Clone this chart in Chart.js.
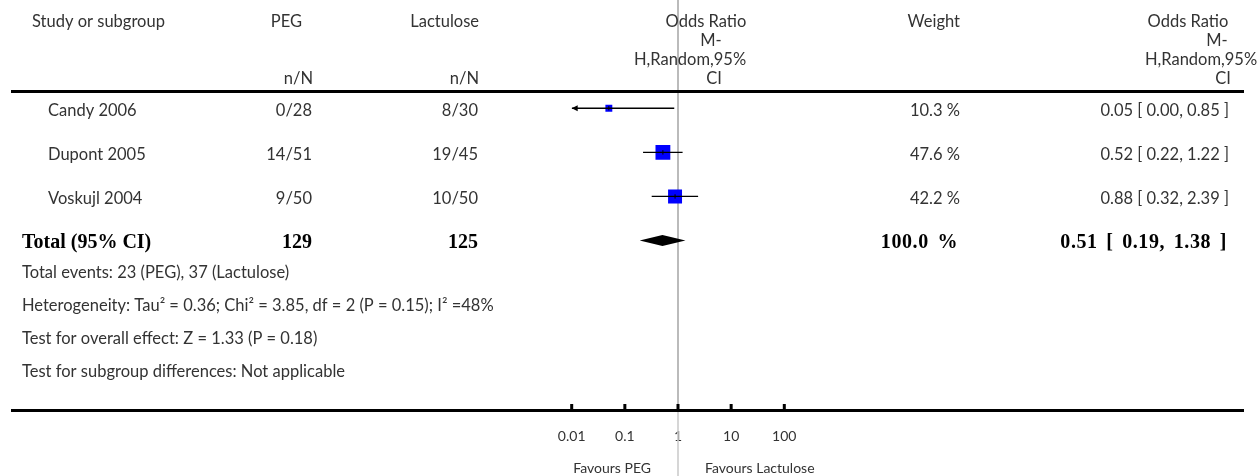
<!DOCTYPE html>
<html>
<head>
<meta charset="utf-8">
<script src="https://cdn.jsdelivr.net/npm/chart.js@4.4.0/dist/chart.umd.min.js"></script>
<style>
  html, body { margin: 0; padding: 0; background: #fff; }
  #wrap { width: 1258px; height: 476px; }
</style>
</head>
<body>
<div id="wrap"><canvas id="forest" width="1258" height="476"></canvas></div>
<script>
// study rows
const studies = ['Candy 2006', 'Dupont 2005', 'Voskujl 2004']
const pegEvents = ['0/28', '14/51', '9/50']
const lacEvents = ['8/30', '19/45', '10/50']
const weights = [10.3, 47.6, 42.2]
const oddsRatio = [0.05, 0.52, 0.88]
const ciLower = [0.00, 0.22, 0.32]
const ciUpper = [0.85, 1.22, 2.39]

// pooled row
const totalLabel = 'Total (95% CI)'
const totalPeg = '129'
const totalLac = '125'
const totalWeight = 100.0
const totalOR = 0.51
const totalLower = 0.19
const totalUpper = 1.38

const footnotes = [
  'Total events: 23 (PEG), 37 (Lactulose)',
  'Heterogeneity: Tau² = 0.36; Chi² = 3.85, df = 2 (P = 0.15); I² =48%',
  'Test for overall effect: Z = 1.33 (P = 0.18)',
  'Test for subgroup differences: Not applicable'
]

// x axis
const tickValues = [0.01, 0.1, 1, 10, 100]
const tickLabels = ['0.01', '0.1', '1', '10', '100']
const favours = ['Favours PEG', 'Favours Lactulose']

const X_MIN = tickValues[0]
const X_MAX = tickValues[tickValues.length - 1]

const FONT = 'Lato, "Open Sans", sans-serif'
const BOLD = '"Liberation Serif", "DejaVu Serif", serif'
const GREY = '#333'

function fmtOR(or, lo, hi) {
  return `${or.toFixed(2)} [ ${lo.toFixed(2)}, ${hi.toFixed(2)} ]`
}

function text(ctx, str, x, y, align, font, color) {
  ctx.font = font
  ctx.fillStyle = color || GREY
  ctx.textAlign = align
  ctx.textBaseline = 'middle'
  ctx.fillText(str, x, y)
}

// vertical no-effect line goes under the marks
const noEffectLine = {
  id: 'noEffectLine',
  beforeDatasetsDraw(chart) {
    const ctx = chart.ctx
    const x = chart.scales.x.getPixelForValue(1)
    ctx.save()
    ctx.strokeStyle = '#aaaaaa'
    ctx.lineWidth = 1.6
    ctx.beginPath()
    ctx.moveTo(x, 0)
    ctx.lineTo(x, 410)
    ctx.stroke()
    ctx.strokeStyle = '#cccccc'
    ctx.beginPath()
    ctx.moveTo(x, 410)
    ctx.lineTo(x, 476)
    ctx.stroke()
    ctx.restore()
  }
}

// table text, rules, diamond and arrows
const forestTable = {
  id: 'forestTable',
  afterDatasetsDraw(chart) {
    const ctx = chart.ctx
    const xs = chart.scales.x
    const ys = chart.scales.y
    const reg = `16.5px ${FONT}`
    const small = `14px ${FONT}`
    const bold = `bold 20px ${BOLD}`
    ctx.save()

    // horizontal rules
    ctx.fillStyle = '#000'
    ctx.fillRect(11, 90, 1233, 3)
    ctx.fillRect(11, 409, 1233, 3)

    // tick marks above the axis rule
    tickValues.forEach(v => {
      const px = xs.getPixelForValue(v)
      ctx.fillRect(px - 1.5, 404, 3, 5)
    })

    // header
    text(ctx, 'Study or subgroup', 32, 22, 'left', reg)
    text(ctx, 'PEG', 302, 22, 'right', reg)
    text(ctx, 'n/N', 313, 79, 'right', reg)
    text(ctx, 'Lactulose', 479, 22, 'right', reg)
    text(ctx, 'n/N', 479, 79, 'right', reg)
    text(ctx, 'Odds Ratio', 706, 22, 'center', reg)
    text(ctx, 'M-', 711, 41, 'center', reg)
    text(ctx, 'H,Random,95%', 690, 60, 'center', reg)
    text(ctx, 'CI', 714, 79, 'center', reg)
    text(ctx, 'Weight', 960, 22, 'right', reg)
    text(ctx, 'Odds Ratio', 1188, 22, 'center', reg)
    text(ctx, 'M-', 1217, 41, 'center', reg)
    text(ctx, 'H,Random,95%', 1201, 60, 'center', reg)
    text(ctx, 'CI', 1223, 79, 'center', reg)

    // study rows
    studies.forEach((s, i) => {
      const y = ys.getPixelForValue(i) + 2
      text(ctx, s, 48, y, 'left', reg)
      text(ctx, pegEvents[i], 312, y, 'right', reg)
      text(ctx, lacEvents[i], 478, y, 'right', reg)
      text(ctx, weights[i].toFixed(1) + ' %', 960, y, 'right', reg)
      text(ctx, fmtOR(oddsRatio[i], ciLower[i], ciUpper[i]), 1229, y, 'right', reg)

      // arrow where the interval runs off the axis
      const ay = ys.getPixelForValue(i)
      ctx.fillStyle = '#000'
      if (ciLower[i] < X_MIN) {
        const ax = xs.getPixelForValue(X_MIN)
        ctx.beginPath()
        ctx.moveTo(ax, ay)
        ctx.lineTo(ax + 6, ay - 3)
        ctx.lineTo(ax + 6, ay + 3)
        ctx.closePath()
        ctx.fill()
      }
      if (ciUpper[i] > X_MAX) {
        const ax = xs.getPixelForValue(X_MAX)
        ctx.beginPath()
        ctx.moveTo(ax, ay)
        ctx.lineTo(ax - 6, ay - 3)
        ctx.lineTo(ax - 6, ay + 3)
        ctx.closePath()
        ctx.fill()
      }
    })

    // pooled diamond
    const ty = ys.getPixelForValue(studies.length)
    ctx.fillStyle = '#000'
    ctx.beginPath()
    ctx.moveTo(xs.getPixelForValue(totalLower), ty)
    ctx.lineTo(xs.getPixelForValue(totalOR), ty - 5.5)
    ctx.lineTo(xs.getPixelForValue(totalUpper), ty)
    ctx.lineTo(xs.getPixelForValue(totalOR), ty + 5.5)
    ctx.closePath()
    ctx.fill()

    const by = ty + 2
    text(ctx, totalLabel, 22, by, 'left', bold, '#000')
    text(ctx, totalPeg, 312, by, 'right', bold, '#000')
    text(ctx, totalLac, 478, by, 'right', bold, '#000')
    ctx.letterSpacing = '0.6px'
    ctx.wordSpacing = '3px'
    text(ctx, totalWeight.toFixed(1) + ' %', 958, by, 'right', bold, '#000')
    text(ctx, fmtOR(totalOR, totalLower, totalUpper), 1227, by, 'right', bold, '#000')
    ctx.letterSpacing = '0px'
    ctx.wordSpacing = '0px'

    // footnotes
    footnotes.forEach((f, i) => {
      text(ctx, f, 22, 273 + i * 33, 'left', reg)
    })

    // favours labels
    const x1 = xs.getPixelForValue(1)
    text(ctx, favours[0], x1 - 27, 468, 'right', small)
    text(ctx, favours[1], x1 + 27, 468, 'left', small)

    ctx.restore()
  }
}

const rows = studies.map((s, i) => i)

const ciSets = studies.map((s, i) => ({
  data: [
    { x: Math.max(ciLower[i], X_MIN), y: i },
    { x: Math.min(ciUpper[i], X_MAX), y: i }
  ],
  showLine: true,
  borderColor: '#000',
  borderWidth: 1.3,
  pointRadius: 0,
  order: 2
}))

const ctx = document.getElementById('forest').getContext('2d')
new Chart(ctx, {
  type: 'scatter',
  data: {
    datasets: [
      {
        // study squares, area by weight
        data: rows.map(i => ({ x: oddsRatio[i], y: i })),
        pointStyle: 'rect',
        pointRadius: weights.map(w => Math.sqrt(w) * 1.52),
        backgroundColor: '#0000ff',
        borderWidth: 0,
        order: 3
      },
      ...ciSets,
      {
        // small tick at each estimate
        data: rows.map(i => ({ x: oddsRatio[i], y: i })),
        pointStyle: 'line',
        rotation: 90,
        pointRadius: 2.2,
        borderColor: '#000',
        borderWidth: 1,
        order: 1
      }
    ]
  },
  options: {
    responsive: false,
    animation: false,
    layout: {
      padding: { left: 571.7, right: 1258 - 784.3, top: 20, bottom: 12.6 }
    },
    plugins: {
      legend: { display: false },
      tooltip: { enabled: false }
    },
    scales: {
      x: {
        type: 'logarithmic',
        min: X_MIN,
        max: X_MAX,
        border: { display: false },
        grid: { display: false, drawTicks: false },
        afterBuildTicks: scale => {
          scale.ticks = tickValues.map(v => ({ value: v }))
        },
        ticks: {
          autoSkip: false,
          maxRotation: 0,
          padding: 18.3,
          color: GREY,
          font: { family: FONT, size: 14 },
          callback: (value) => tickLabels[tickValues.indexOf(value)]
        }
      },
      y: {
        type: 'linear',
        min: -2,
        max: 6.84,
        reverse: true,
        display: false
      }
    }
  },
  plugins: [noEffectLine, forestTable]
})
</script>
</body>
</html>
